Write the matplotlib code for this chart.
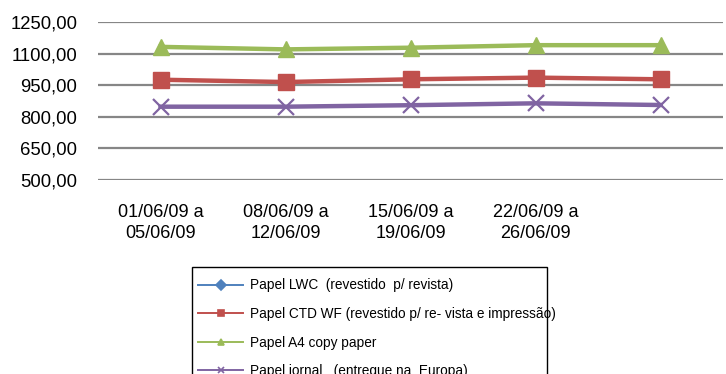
import matplotlib
matplotlib.use("Agg")
import matplotlib.pyplot as plt
from matplotlib.patches import Rectangle
from matplotlib.lines import Line2D

plt.rcParams['font.family'] = ['Liberation Sans', 'DejaVu Sans']

# Weekly price data
periods = ["01/06/09 a\n05/06/09", "08/06/09 a\n12/06/09", "15/06/09 a\n19/06/09",
           "22/06/09 a\n26/06/09", ""]
lwc = [None, None, None, None, None]
ctd_wf = [976, 965, 978, 986, 978]
a4_copy = [1132, 1120, 1128, 1140, 1140]
jornal = [848, 848, 855, 864, 856]

series_names = ["Papel LWC  (revestido  p/ revista)",
                "Papel CTD WF (revestido p/ re- vista e impressão)",
                "Papel A4 copy paper",
                "Papel jornal   (entregue na  Europa)"]
colors = ["#4F81BD", "#C0504D", "#9BBB59", "#8064A2"]
markers = ["D", "s", "^", "x"]

yticks = [500, 650, 800, 950, 1100, 1250]

W, H = 726, 374
fig = plt.figure(figsize=(W / 100, H / 100), dpi=100)
ax = fig.add_axes([98 / W, 1 - 180 / H, 625 / W, 158 / H])

x = list(range(len(periods)))
ax.plot(x, ctd_wf, color=colors[1], lw=3.2, marker="s", ms=11, zorder=3)
ax.plot(x, a4_copy, color=colors[2], lw=3.2, marker="^", ms=12, zorder=3)
ax.plot(x, jornal, color=colors[3], lw=3.2, marker="x", ms=11, mew=1.6, zorder=3)

ax.set_xlim(-0.5, len(periods) - 0.5)
ax.set_ylim(500, 1250)
ax.set_yticks(yticks)
ax.set_yticklabels([f"{v:.2f}".replace(".", ",") for v in yticks], fontsize=13.3)
ax.set_xticks(x)
ax.set_xticklabels(periods, fontsize=13, linespacing=1.35)
ax.tick_params(axis="both", length=0)
ax.tick_params(axis="y", pad=15)
ax.tick_params(axis="x", pad=17)
ax.yaxis.grid(True, color="#868686", lw=1.6)
ax.set_axisbelow(True)
for s in ax.spines.values():
    s.set_visible(False)

handles = [Line2D([], [], color=c, marker=m, ms=5, lw=1.4, mew=1.2)
           for c, m in zip(colors, markers)]
leg = fig.legend(handles, series_names, loc="upper left",
                 bbox_to_anchor=(193 / W, 1 - 273 / H), frameon=False,
                 fontsize=9.8, handlelength=3.3, handletextpad=0.5,
                 labelspacing=1.07, borderaxespad=0)
fig.patches.append(Rectangle((192 / W, -0.05), (547 - 192) / W, 0.05 + 1 - 267 / H,
                             transform=fig.transFigure, fill=False,
                             edgecolor="black", lw=1.0))

fig.savefig("out.png", dpi=100)
